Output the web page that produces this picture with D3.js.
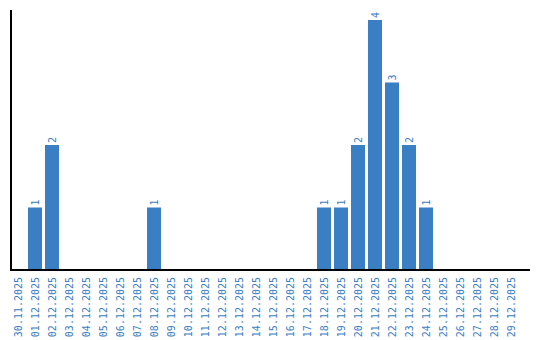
<!DOCTYPE html>
<html>
<head>
<meta charset="utf-8">
<script src="https://cdn.jsdelivr.net/npm/d3@7"></script>
<style>
  html, body { margin: 0; padding: 0; background: #fff; }
  svg { display: block; }
  text { font-family: "DejaVu Sans Mono", monospace; font-size: 10px; fill: #3a7ec3; }
</style>
</head>
<body>
<svg id="chart" width="540" height="340"></svg>
<script>
const categories = [
  "30.11.2025","01.12.2025","02.12.2025","03.12.2025","04.12.2025","05.12.2025",
  "06.12.2025","07.12.2025","08.12.2025","09.12.2025","10.12.2025","11.12.2025",
  "12.12.2025","13.12.2025","14.12.2025","15.12.2025","16.12.2025","17.12.2025",
  "18.12.2025","19.12.2025","20.12.2025","21.12.2025","22.12.2025","23.12.2025",
  "24.12.2025","25.12.2025","26.12.2025","27.12.2025","28.12.2025","29.12.2025"
];
const values = [0,1,2,0,0,0,0,0,1,0,0,0,0,0,0,0,0,0,1,1,2,4,3,2,1,0,0,0,0,0];

const svg = d3.select("#chart");
const mLeft = 11, mBottom = 270, mTop = 10, axisRight = 530;
const barColor = "#3a7ec3";

const x = d3.scaleBand()
  .domain(categories)
  .range([mLeft, mLeft + 29 * 17 + 14])
  .paddingInner(3 / 17)
  .paddingOuter(0)
  .align(0);

const y = d3.scaleLinear().domain([0, 4.16]).range([mBottom, mTop]);

const data = categories.map((c, i) => ({ c, v: values[i] }));

// bars
svg.append("g").selectAll("rect")
  .data(data.filter(d => d.v > 0))
  .join("rect")
  .attr("x", d => x(d.c))
  .attr("y", d => y(d.v))
  .attr("width", x.bandwidth())
  .attr("height", d => y(0) - y(d.v))
  .attr("fill", barColor);

// value labels
svg.append("g").selectAll("text")
  .data(data.filter(d => d.v > 0))
  .join("text")
  .attr("transform", d => `translate(${x(d.c) + x.bandwidth() / 2 + 4},${y(d.v) - 2}) rotate(-90) scale(1,1.1)`)
  .attr("text-anchor", "start")
  .text(d => d.v);

// axes lines
svg.append("line")
  .attr("x1", mLeft).attr("x2", mLeft)
  .attr("y1", mTop).attr("y2", mBottom)
  .attr("stroke", "#000").attr("stroke-width", 2);
svg.append("line")
  .attr("x1", mLeft - 1).attr("x2", axisRight)
  .attr("y1", mBottom).attr("y2", mBottom)
  .attr("stroke", "#000").attr("stroke-width", 2);

// x tick labels
svg.append("g").selectAll("text")
  .data(categories)
  .join("text")
  .attr("transform", d => `translate(${x(d) + x.bandwidth() / 2 + 4},${mBottom + 7}) rotate(-90) scale(1,1.1)`)
  .attr("text-anchor", "end")
  .text(d => d);
</script>
</body>
</html>
